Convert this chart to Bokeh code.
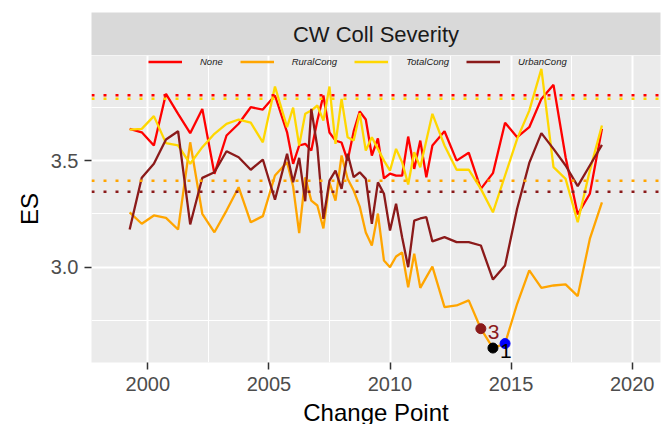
from bokeh.plotting import figure
from bokeh.models import Range1d, Legend, LegendItem, Label, FixedTicker, Span
from bokeh.layouts import column
from bokeh.embed import file_html
from bokeh.resources import INLINE
from bokeh.core.properties import value

# ---- data ----
years = [1999.25, 1999.75, 2000.25, 2000.75, 2001.25, 2001.75, 2002.25, 2002.75,
         2003.25, 2003.75, 2004.25, 2004.75, 2005.25, 2005.75,
         2006.0, 2006.25, 2006.5, 2006.75, 2007.0, 2007.25, 2007.5, 2007.75,
         2008.0, 2008.25, 2008.5, 2008.75, 2009.0, 2009.25, 2009.5, 2009.75,
         2010.0, 2010.25, 2010.5, 2010.75, 2011.0, 2011.25, 2011.5, 2011.75,
         2012.25, 2012.75, 2013.25, 2013.75, 2014.25, 2014.75, 2015.25, 2015.75,
         2016.25, 2016.75, 2017.25, 2017.75, 2018.25, 2018.75]

es_none = [3.650, 3.634, 3.572, 3.815, 3.721, 3.630, 3.744, 3.439, 3.619, 3.674, 3.752, 3.741, 3.807, 3.634,
           3.486, 3.572, 3.580, 3.548, 3.689, 3.807, 3.633, 3.595, 3.586, 3.501, 3.638, 3.732,
           3.694, 3.525, 3.605, 3.417, 3.440, 3.430, 3.430, 3.614, 3.462, 3.595, 3.423, 3.572,
           3.639, 3.501, 3.538, 3.368, 3.442, 3.679, 3.611, 3.658, 3.791, 3.857, 3.517, 3.248, 3.345, 3.650]

es_rural = [3.258, 3.204, 3.243, 3.232, 3.177, 3.587, 3.251, 3.164, 3.266, 3.376, 3.211, 3.240, 3.431, 3.493,
            3.379, 3.160, 3.422, 3.313, 3.290, 3.182, 3.398, 3.313, 3.525, 3.416, 3.360, 3.285,
            3.163, 3.102, 3.252, 3.031, 3.000, 3.050, 3.069, 2.906, 3.063, 2.903, 2.953, 3.003,
            2.812, 2.820, 2.844, 2.711, 2.620, 2.641, 2.828, 2.985, 2.903, 2.914, 2.919, 2.864, 3.133, 3.305]

es_total = [3.647, 3.650, 3.710, 3.583, 3.572, 3.486, 3.564, 3.627, 3.674, 3.694, 3.679, 3.587, 3.849, 3.658,
            3.750, 3.572, 3.721, 3.736, 3.760, 3.689, 3.849, 3.580, 3.791, 3.611, 3.595, 3.724,
            3.548, 3.611, 3.556, 3.501, 3.454, 3.556, 3.493, 3.389, 3.540, 3.470, 3.595, 3.721,
            3.572, 3.458, 3.459, 3.368, 3.258, 3.431, 3.603, 3.736, 3.932, 3.470, 3.415, 3.211, 3.454, 3.666]

es_urban = [3.177, 3.420, 3.486, 3.600, 3.639, 3.201, 3.420, 3.446, 3.545, 3.517, 3.458, 3.506, 3.317, 3.533,
            3.399, 3.514, 3.310, 3.744, 3.564, 3.227, 3.407, 3.454, 3.368, 3.533, 3.423, 3.446,
            3.415, 3.204, 3.399, 3.345, 3.172, 3.298, 3.141, 3.000, 3.219, 3.229, 3.235, 3.121,
            3.141, 3.118, 3.118, 3.102, 2.942, 3.008, 3.276, 3.490, 3.630, 3.556, 3.478, 3.381, 3.478, 3.575]

series_names = ["None", "RuralCong", "TotalCong", "UrbanCong"]
series_colors = ["#FF0000", "#FFA500", "#FFD700", "#8B1A1A"]
ref_levels = [3.808, 3.406, 3.792, 3.355]  # per series, same order

cp_x = [2013.75, 2014.25, 2014.75]
cp_y = [2.711, 2.620, 2.641]
cp_colors = ["#8B1A1A", "#000000", "#0000FF"]
cp_labels = ["3", "1", ""]

xticks = [2000, 2005, 2010, 2015, 2020]
xminor = [1997.5, 2002.5, 2007.5, 2012.5, 2017.5]
yticks = [3.0, 3.5]
ytick_labels = ["3.0", "3.5"]
yminor = [2.75, 3.25, 3.75]

FONT = "Liberation Sans"
FRAME_W = 569
FRAME_H = 307

# ---- strip (facet title) ----
strip = figure(frame_width=FRAME_W, frame_height=43, x_range=Range1d(0, 1), y_range=Range1d(0, 1),
               output_backend="svg", toolbar_location=None,
               x_axis_location=None, y_axis_location=None,
               min_border_left=91, min_border_right=2, min_border_top=12, min_border_bottom=0)
strip.grid.visible = False
strip.background_fill_color = "#D9D9D9"
strip.border_fill_color = "white"
strip.outline_line_color = None
strip.add_layout(Label(x=0.5, y=0.5, text="CW Coll Severity", text_align="center",
                       text_baseline="middle", text_font_size="22px", text_color="#1A1A1A",
                       text_font=FONT))

# ---- main panel ----
p = figure(frame_width=FRAME_W, frame_height=FRAME_H,
           x_range=Range1d(1997.675, 2021.168), y_range=Range1d(2.552, 3.995),
           output_backend="svg", toolbar_location=None,
           min_border_left=91, min_border_right=2, min_border_top=0, min_border_bottom=62)
p.background_fill_color = "#EBEBEB"
p.border_fill_color = "white"
p.outline_line_color = None

p.xaxis.ticker = FixedTicker(ticks=xticks, minor_ticks=xminor)
p.yaxis.ticker = FixedTicker(ticks=yticks, minor_ticks=yminor)
p.yaxis.major_label_overrides = {t: l for t, l in zip(yticks, ytick_labels)}
for g in (p.xgrid, p.ygrid):
    g.grid_line_color = "white"
    g.grid_line_width = 2
    g.minor_grid_line_color = "white"
    g.minor_grid_line_width = 1
for ax in (p.xaxis, p.yaxis):
    ax.axis_line_color = None
    ax.major_tick_line_color = "#333333"
    ax.major_tick_line_width = 1.5
    ax.major_tick_out = 7
    ax.major_tick_in = 0
    ax.minor_tick_line_color = None
    ax.major_label_text_font = FONT
    ax.major_label_text_font_size = "20px"
    ax.major_label_text_color = "#4D4D4D"
    ax.axis_label_text_font = FONT
    ax.axis_label_text_font_size = "24px"
    ax.axis_label_text_font_style = "normal"
    ax.axis_label_text_color = "#000000"
p.xaxis.axis_label = "Change Point"
p.yaxis.axis_label = "ES"
p.xaxis.major_label_standoff = 7
p.xaxis.axis_label_standoff = 5
p.yaxis.major_label_standoff = 6
p.yaxis.axis_label_standoff = 5

for lvl, col in zip(ref_levels, series_colors):
    p.add_layout(Span(location=lvl, dimension="width", line_color=col,
                      line_width=2.5, line_dash="3 9"))

items = []
for name, col, ys in zip(series_names, series_colors, [es_none, es_rural, es_total, es_urban]):
    r = p.line(years, ys, line_color=col, line_width=2.3)
    items.append(LegendItem(label=name, renderers=[r]))

p.scatter(cp_x, cp_y, color=cp_colors, size=10)
p.text(x=cp_x[:2], y=cp_y[:2], text=cp_labels[:2], text_color=cp_colors[:2],
       x_offset=7, y_offset=3, text_align="left", text_baseline="middle",
       text_font_size="21px", text_font=value(FONT))

legend = Legend(items=items, orientation="horizontal", location=(57, FRAME_H - 12),
                glyph_width=34, glyph_height=11, label_height=11, label_standoff=18,
                spacing=17, padding=0, margin=0, background_fill_alpha=0,
                border_line_color=None, label_text_font_size="9.5px",
                label_text_font_style="italic", label_text_font=FONT,
                label_text_color="#1A1A1A")
p.add_layout(legend)

layout = column(strip, p, spacing=0)
open("out.html", "w").write(file_html(layout, INLINE))
